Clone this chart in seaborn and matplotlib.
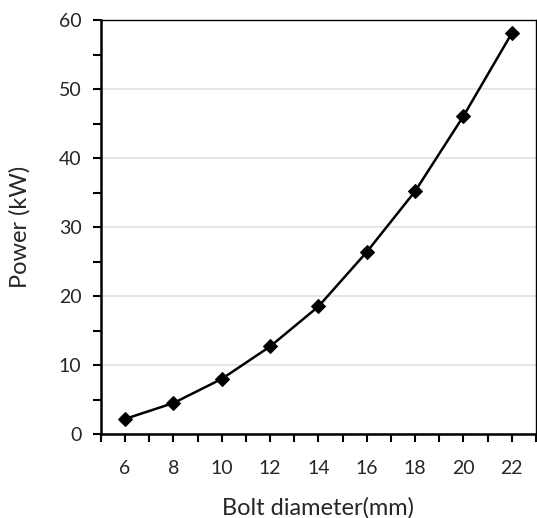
import matplotlib
matplotlib.use("Agg")
import matplotlib.pyplot as plt
import seaborn as sns
import pandas as pd
from matplotlib.ticker import MultipleLocator

# values
bolt_diameter = [6, 8, 10, 12, 14, 16, 18, 20, 22]
power_kw = [2.2, 4.5, 8.0, 12.7, 18.5, 26.4, 35.2, 46.1, 58.1]

df = pd.DataFrame({"Bolt diameter(mm)": bolt_diameter, "Power (kW)": power_kw})

sns.set_style("white")
plt.rcParams["font.family"] = ["Lato", "DejaVu Sans"]

fig = plt.figure(figsize=(5.37, 5.18), dpi=100)
ax = fig.add_axes([0.188, 0.162, 0.81, 0.799])

sns.lineplot(data=df, x="Bolt diameter(mm)", y="Power (kW)", ax=ax,
             color="black", linewidth=1.8, marker="D", markersize=7,
             markeredgecolor="black", markerfacecolor="black")

ax.set_xlim(5, 23)
ax.set_ylim(0, 60)
ax.xaxis.set_major_locator(MultipleLocator(2))
ax.xaxis.set_minor_locator(MultipleLocator(1))
ax.yaxis.set_major_locator(MultipleLocator(10))
ax.yaxis.set_minor_locator(MultipleLocator(5))
ax.tick_params(which="both", direction="out", length=6, width=1.5,
               color="black", labelsize=14, bottom=True, left=True)
ax.tick_params(axis="x", pad=13)
ax.tick_params(axis="y", pad=8)
ax.grid(axis="y", which="major", color="#e0e0e0", linewidth=1.2)
ax.set_axisbelow(True)

for side in ["left", "bottom"]:
    ax.spines[side].set_linewidth(1.8)
    ax.spines[side].set_color("black")
for side in ["top", "right"]:
    ax.spines[side].set_linewidth(1.0)
    ax.spines[side].set_color("black")

ax.set_xlabel("Bolt diameter(mm)", fontsize=17, labelpad=14)
ax.set_ylabel("Power (kW)", fontsize=17, labelpad=20)

fig.savefig("out.png", dpi=100)
